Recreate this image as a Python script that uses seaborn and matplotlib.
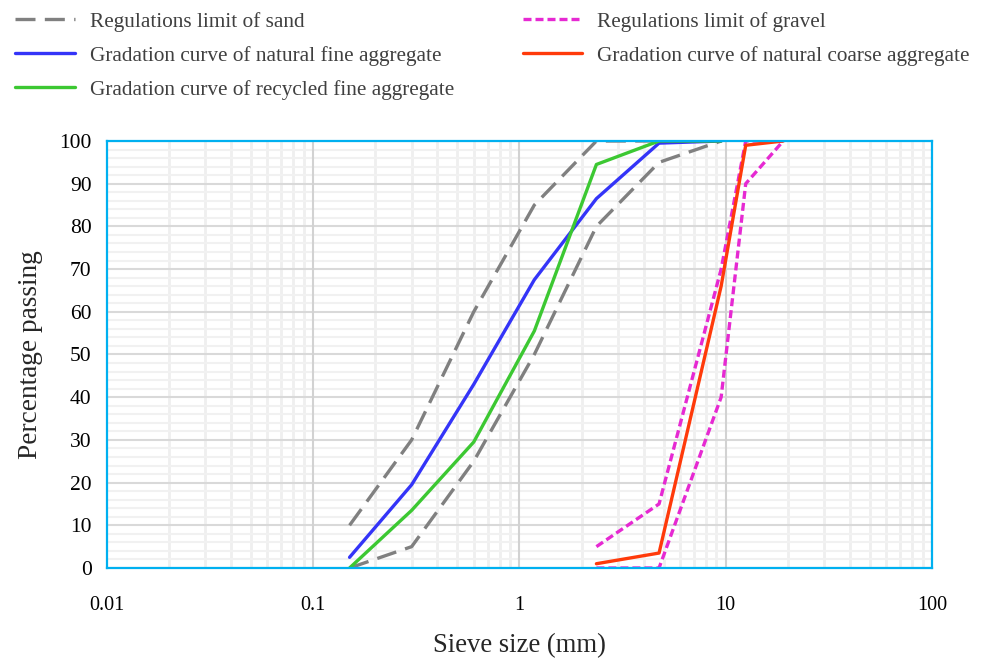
import pandas as pd
import numpy as np
from matplotlib import pyplot as plt
from matplotlib.ticker import FixedLocator, NullFormatter
import seaborn as sns

# sieve sizes (mm)
sand_sieve = [0.15, 0.3, 0.6, 1.18, 2.36, 4.75, 9.5]
gravel_sieve = [2.36, 4.75, 9.5, 12.5, 19]

# percentage passing
sand_upper = [10, 30, 60, 85, 100, 100, 100]
sand_lower = [0, 5, 25, 50, 80, 95, 100]
natural_fine = [2.5, 19.5, 43, 67.5, 86.5, 99.5, 100]
recycled_fine = [0, 13.5, 29.5, 55.5, 94.5, 100, 100]
gravel_upper = [5, 15, 70, 100, 100]
gravel_lower = [0, 0, 40, 90, 100]
natural_coarse = [1, 3.5, 66, 99, 100]

sns.set_style("white")
plt.rcParams['font.family'] = ['Liberation Serif', 'DejaVu Serif']

fig = plt.figure(figsize=(9.88, 6.61), dpi=100)
ax = fig.add_axes([0.1083, 0.1407, 0.835, 0.646])

lw = 2.4
sns.lineplot(x=sand_sieve, y=sand_upper, ax=ax, color="#808080", lw=lw,
             label="Regulations limit of sand")
sns.lineplot(x=sand_sieve, y=sand_lower, ax=ax, color="#808080", lw=lw,
             label="_nolegend_")
sns.lineplot(x=sand_sieve, y=natural_fine, ax=ax, color="#3434F8", lw=lw,
             label="Gradation curve of natural fine aggregate")
sns.lineplot(x=sand_sieve, y=recycled_fine, ax=ax, color="#3CC832", lw=lw,
             label="Gradation curve of recycled fine aggregate")
sns.lineplot(x=gravel_sieve, y=gravel_upper, ax=ax, color="#E629D2", lw=lw,
             label="Regulations limit of gravel")
sns.lineplot(x=gravel_sieve, y=gravel_lower, ax=ax, color="#E629D2", lw=lw,
             label="_nolegend_")
sns.lineplot(x=gravel_sieve, y=natural_coarse, ax=ax, color="#FF3A0A", lw=lw,
             label="Gradation curve of natural coarse aggregate")

lines = ax.get_lines()
for ln in lines[:2]:
    ln.set_dashes((6, 2.8))
for ln in lines[4:6]:
    ln.set_dashes((2.4, 1.2))

ax.set_xscale("log")
ax.set_xlim(0.01, 100)
ax.set_ylim(0, 100)

ax.xaxis.set_major_locator(FixedLocator([0.01, 0.1, 1, 10, 100]))
ax.set_xticklabels(["0.01", "0.1", "1", "10", "100"])
minor_x = [m * 10.0 ** e for e in range(-2, 2) for m in range(2, 10)]
ax.xaxis.set_minor_locator(FixedLocator(minor_x))
ax.xaxis.set_minor_formatter(NullFormatter())
ax.set_yticks(range(0, 101, 10))
ax.yaxis.set_minor_locator(FixedLocator([v for v in range(2, 100, 2) if v % 10]))

ax.grid(which="minor", axis="x", color="#efefef", lw=2)
ax.grid(which="major", axis="y", color="#d9d9d9", lw=1.5)
ax.grid(which="minor", axis="y", color="#f1f1f1", lw=1.5)
ax.set_axisbelow(True)
# decade lines drawn on top of the light grid so they stay solid
ax.vlines(ax.get_xticks()[1:-1], 0, 100, color="#d2d2d2", lw=1.5, zorder=0.8)

for sp in ax.spines.values():
    sp.set_visible(True)
    sp.set_color("#00B0F0")
    sp.set_linewidth(1.6)

ax.tick_params(axis="both", which="both", length=0, colors="black")
ax.tick_params(axis="x", pad=20, labelsize=14.5)
ax.tick_params(axis="y", pad=11, labelsize=15.5)

ax.set_xlabel("Sieve size (mm)", fontsize=19.2, labelpad=13)
ax.set_ylabel("Percentage passing", fontsize=19.6, labelpad=12)

handles, labels = ax.get_legend_handles_labels()
ax.get_legend().remove()
order = ["Regulations limit of sand",
         "Gradation curve of natural fine aggregate",
         "Gradation curve of recycled fine aggregate",
         "Regulations limit of gravel",
         "Gradation curve of natural coarse aggregate"]
hmap = dict(zip(labels, handles))
leg = fig.legend([hmap[k] for k in order], order, ncol=2, loc="upper left",
                 bbox_to_anchor=(-0.004, 1.011), frameon=False, fontsize=15.3,
                 handlelength=2.8, handletextpad=0.7, columnspacing=3.25,
                 labelspacing=0.66)
for t in leg.get_texts():
    t.set_color("#404040")

fig.savefig("out.png", dpi=100)
